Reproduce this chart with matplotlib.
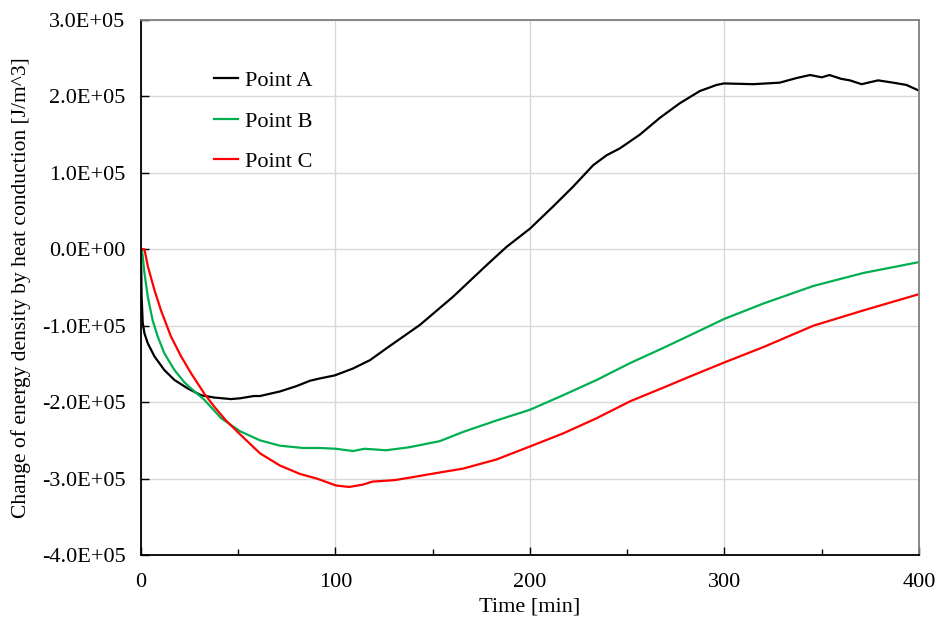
import numpy as np
import matplotlib.pyplot as plt
from matplotlib.ticker import FuncFormatter, MultipleLocator

# values (time in min, energy density in J/m^3)
t_a = [0, 0.3, 0.9, 1.8, 3.5, 6.9, 12, 17.2, 24, 30.9, 37.7, 46.3, 50.9, 58, 61.2, 71.5,
       80, 86.9, 92, 99.7, 109, 117.8, 126, 143.4, 160.5, 177.6, 187.9, 200, 211.9, 222.2,
       232.5, 239.4, 246.2, 256.5, 266.8, 277, 287.3, 295.9, 299.8, 314.8, 328.4, 337, 344,
       350, 354, 360, 364.5, 370.5, 379, 386.7, 393.6, 399.6]
y_a = [0, -0.6e5, -0.96e5, -1.10e5, -1.23e5, -1.40e5, -1.58e5, -1.71e5, -1.82e5, -1.91e5,
       -1.94e5, -1.96e5, -1.95e5, -1.92e5, -1.92e5, -1.86e5, -1.79e5, -1.72e5, -1.69e5,
       -1.65e5, -1.56e5, -1.45e5, -1.30e5, -0.99e5, -0.62e5, -0.21e5, 0.03e5, 0.27e5,
       0.56e5, 0.82e5, 1.10e5, 1.23e5, 1.32e5, 1.50e5, 1.72e5, 1.91e5, 2.07e5, 2.15e5,
       2.17e5, 2.16e5, 2.18e5, 2.24e5, 2.28e5, 2.25e5, 2.28e5, 2.23e5, 2.21e5, 2.16e5,
       2.21e5, 2.18e5, 2.15e5, 2.08e5]

t_b = [0, 0.5, 1.8, 3.5, 6, 8.6, 12, 17.2, 22.3, 25.7, 32.6, 41.2, 50.9, 61.2, 71.5, 83.4,
       92, 100.2, 109, 115, 126, 138, 153.7, 165.6, 182.8, 200, 217, 234.3, 251.4, 268.6,
       282.7, 300, 320, 345.7, 371.4, 399.6]
y_b = [0, 0, -0.31e5, -0.62e5, -0.93e5, -1.14e5, -1.36e5, -1.58e5, -1.74e5, -1.82e5,
       -1.97e5, -2.21e5, -2.38e5, -2.50e5, -2.57e5, -2.60e5, -2.60e5, -2.61e5, -2.64e5,
       -2.61e5, -2.63e5, -2.59e5, -2.51e5, -2.39e5, -2.24e5, -2.10e5, -1.91e5, -1.71e5,
       -1.49e5, -1.29e5, -1.12e5, -0.91e5, -0.71e5, -0.48e5, -0.31e5, -0.17e5]

t_c = [0, 1.8, 3.5, 6.9, 10.3, 15.4, 20.6, 25.7, 32.6, 37.7, 43.7, 50.9, 61.2, 71.5, 81.8,
       90.4, 100.2, 107, 114, 119, 130.6, 140, 153.7, 165.6, 182.8, 200, 217, 234.3, 251.4,
       268.6, 282.7, 300, 320, 345.7, 371.4, 399.6]
y_c = [0, 0, -0.22e5, -0.53e5, -0.80e5, -1.14e5, -1.40e5, -1.62e5, -1.89e5, -2.06e5,
       -2.24e5, -2.42e5, -2.67e5, -2.83e5, -2.94e5, -3.00e5, -3.09e5, -3.11e5, -3.08e5,
       -3.04e5, -3.02e5, -2.98e5, -2.92e5, -2.87e5, -2.75e5, -2.58e5, -2.41e5, -2.21e5,
       -1.99e5, -1.81e5, -1.66e5, -1.48e5, -1.28e5, -1.00e5, -0.80e5, -0.59e5]

plt.rcParams['font.family'] = ['Liberation Serif', 'DejaVu Serif']
plt.rcParams['font.size'] = 16

fig = plt.figure(figsize=(9.36, 6.17), dpi=100)
ax = fig.add_axes([0.1506, 0.1005, 0.8312, 0.8671])

ax.plot(t_a, y_a, color='black', lw=1.6, label='Point A')
ax.plot(t_b, y_b, color='#00B050', lw=1.6, label='Point B')
ax.plot(t_c, y_c, color='#FF0000', lw=1.6, label='Point C')

ax.set_xlim(0, 400)
ax.set_ylim(-4e5, 3e5)
ax.xaxis.set_major_locator(MultipleLocator(100))
ax.xaxis.set_minor_locator(MultipleLocator(50))
ax.yaxis.set_major_locator(MultipleLocator(1e5))
ax.yaxis.set_major_formatter(FuncFormatter(lambda v, p: '%.1E' % (0 if abs(v) < 1 else v)))

ax.grid(True, which='major', color='#d9d9d9', lw=1)
ax.set_axisbelow(True)
ax.tick_params(which='major', direction='in', length=6, width=1)
ax.tick_params(axis='x', which='minor', direction='in', length=4, width=1)
ax.tick_params(axis='x', pad=13)
ax.tick_params(axis='y', pad=11)

for s in ['left', 'bottom']:
    ax.spines[s].set_color('black')
    ax.spines[s].set_linewidth(1.3)
for s in ['top', 'right']:
    ax.spines[s].set_color('#7f7f7f')
    ax.spines[s].set_linewidth(1.3)

ax.set_xlabel('Time [min]', labelpad=4)
ax.set_ylabel('Change of energy density by heat conduction [J/m^3]', labelpad=8,
              fontsize=15.5)

ax.legend(loc='upper left', bbox_to_anchor=(0.068, 0.943), frameon=False,
          handlelength=1.1, handletextpad=0.28, labelspacing=0.9)

fig.savefig('out.png', dpi=100)
